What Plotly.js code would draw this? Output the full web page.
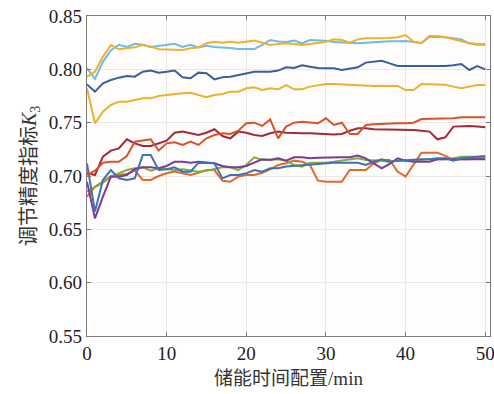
<!DOCTYPE html>
<html>
<head>
<meta charset="utf-8">
<script src="https://cdn.plot.ly/plotly-3.0.1.min.js"></script>
<style>html,body{margin:0;padding:0;background:#fff;}#chart{width:494px;height:394px;}</style>
</head>
<body>
<div id="chart"></div>
<script>
// storage time configuration (min)
const minutes = [0,1,2,3,4,5,6,7,8,9,10,11,12,13,14,15,16,17,18,19,20,21,22,23,24,25,26,27,28,29,30,31,32,33,34,35,36,37,38,39,40,41,42,43,44,45,46,47,48,49,50];

const seriesLightBlue = [0.801,0.791,0.807,0.818,0.823,0.821,0.824,0.823,0.821,0.822,0.823,0.824,0.821,0.823,0.8206,0.822,0.821,0.8206,0.820,0.819,0.819,0.819,0.823,0.8275,0.826,0.8256,0.8269,0.8244,0.8275,0.8275,0.8269,0.8256,0.825,0.8244,0.8244,0.825,0.8256,0.826,0.8263,0.8263,0.8266,0.8256,0.8244,0.8306,0.8306,0.830,0.8291,0.8281,0.8244,0.8231,0.8231];
const seriesYellowHigh = [0.7931,0.7978,0.8119,0.8228,0.8188,0.8197,0.8206,0.8228,0.8213,0.8188,0.8188,0.8181,0.8181,0.8197,0.8206,0.8244,0.8259,0.825,0.8259,0.825,0.8259,0.8269,0.825,0.8228,0.8238,0.8244,0.8238,0.8228,0.8238,0.825,0.8259,0.8281,0.8275,0.825,0.8281,0.8291,0.8291,0.8294,0.8294,0.830,0.8322,0.8259,0.825,0.8313,0.8313,0.830,0.8281,0.8269,0.8244,0.8238,0.8238];
const seriesDarkBlue = [0.7859,0.7791,0.7869,0.790,0.7922,0.7938,0.7931,0.7978,0.7988,0.7969,0.7978,0.7988,0.7925,0.7916,0.7969,0.7963,0.7906,0.7925,0.7931,0.7947,0.7956,0.7978,0.7978,0.7978,0.7988,0.8019,0.8013,0.8038,0.8025,0.8013,0.8009,0.8009,0.7994,0.8009,0.8019,0.8063,0.8075,0.8081,0.8056,0.8031,0.8031,0.8031,0.8031,0.8025,0.8025,0.8031,0.8038,0.805,0.7994,0.8031,0.800];
const seriesYellowLow = [0.7822,0.7494,0.7603,0.7666,0.7697,0.7697,0.7713,0.7728,0.7728,0.775,0.7759,0.7769,0.7775,0.7781,0.7759,0.7738,0.7759,0.7769,0.7791,0.7791,0.7822,0.7831,0.7806,0.7822,0.7813,0.7853,0.7813,0.7813,0.7838,0.7853,0.7863,0.7863,0.7859,0.7853,0.7847,0.7844,0.7844,0.7844,0.7844,0.7844,0.7806,0.7806,0.7863,0.7863,0.7863,0.7856,0.7838,0.7822,0.7838,0.7853,0.7853];
const seriesRedOrange = [0.7009,0.705,0.7125,0.7134,0.7134,0.7188,0.7322,0.7331,0.7344,0.7238,0.7306,0.7316,0.7291,0.7322,0.7291,0.7353,0.7384,0.740,0.7394,0.7425,0.7494,0.750,0.7469,0.7531,0.7353,0.7463,0.750,0.7509,0.7503,0.7494,0.7541,0.7478,0.750,0.7394,0.7394,0.7478,0.7484,0.7488,0.7494,0.7494,0.7494,0.750,0.7534,0.7534,0.7534,0.7534,0.7541,0.755,0.755,0.755,0.755];
const seriesDarkRed = [0.7025,0.7009,0.7181,0.7238,0.7259,0.7344,0.7306,0.7281,0.7281,0.7306,0.7331,0.7406,0.7416,0.740,0.7384,0.7406,0.7438,0.7375,0.7353,0.7416,0.7406,0.7384,0.7375,0.740,0.7416,0.7406,0.740,0.740,0.740,0.7394,0.7394,0.7388,0.7394,0.7425,0.7447,0.7447,0.7438,0.7438,0.7431,0.7431,0.7431,0.7431,0.7425,0.7416,0.7344,0.7363,0.7463,0.7469,0.7469,0.7463,0.7456];
const seriesBlue = [0.7119,0.6666,0.6963,0.7056,0.6978,0.6963,0.6978,0.7197,0.7197,0.7056,0.7063,0.7081,0.7041,0.7041,0.7125,0.7125,0.7119,0.6978,0.7009,0.7009,0.7025,0.7056,0.7041,0.7072,0.7072,0.7088,0.7094,0.7103,0.7109,0.7113,0.7119,0.7125,0.7125,0.7125,0.7125,0.7103,0.7134,0.7156,0.7134,0.7144,0.715,0.715,0.7156,0.7156,0.7166,0.7166,0.7144,0.7166,0.7175,0.7181,0.7188];
const seriesPurple = [0.6947,0.6603,0.6806,0.6994,0.6994,0.7009,0.7063,0.7081,0.7081,0.7072,0.7094,0.7134,0.7134,0.7125,0.7134,0.7125,0.7119,0.7094,0.7081,0.7081,0.7094,0.7125,0.7156,0.715,0.7166,0.7144,0.7175,0.7175,0.7166,0.7172,0.7175,0.7175,0.7175,0.7175,0.7191,0.7166,0.7119,0.7072,0.7113,0.7166,0.7144,0.7134,0.7134,0.7134,0.7156,0.7156,0.715,0.7156,0.7156,0.7156,0.7156];
const seriesGreen = [0.6853,0.6894,0.6938,0.6994,0.7025,0.7056,0.7072,0.7081,0.705,0.7072,0.7063,0.7056,0.7063,0.705,0.7041,0.705,0.7063,0.7081,0.7081,0.7056,0.7103,0.7175,0.715,0.715,0.7156,0.7144,0.7103,0.7088,0.7125,0.7125,0.7125,0.7134,0.7144,0.715,0.7166,0.715,0.715,0.7144,0.7134,0.7144,0.7144,0.715,0.7156,0.7156,0.7156,0.7156,0.7166,0.7181,0.7181,0.7181,0.7181];
const seriesOrange = [0.6806,0.690,0.6947,0.700,0.7009,0.7019,0.705,0.6963,0.6963,0.700,0.7025,0.7041,0.7025,0.7009,0.7031,0.7056,0.7056,0.6956,0.6947,0.6994,0.7009,0.7009,0.7031,0.7063,0.7103,0.7119,0.7144,0.7134,0.7103,0.6956,0.6947,0.6947,0.6947,0.7056,0.7056,0.7056,0.7119,0.715,0.715,0.7041,0.6994,0.7103,0.7219,0.7219,0.7219,0.7188,0.715,0.7156,0.7156,0.7166,0.7166];

const xTickVals = [0,10,20,30,40,50];
const yTickVals = [0.55,0.60,0.65,0.70,0.75,0.80,0.85];
const xTitle = '储能时间配置/min';
const yTitle = '调节精度指标<i>K</i><sub>3</sub>';

const series = [
  {y: seriesOrange, color: '#e2692c'},
  {y: seriesGreen, color: '#7fae3c'},
  {y: seriesPurple, color: '#7e3a92'},
  {y: seriesBlue, color: '#3d72b6'},
  {y: seriesDarkRed, color: '#a2283a'},
  {y: seriesRedOrange, color: '#d8532b'},
  {y: seriesYellowLow, color: '#ecb22e'},
  {y: seriesDarkBlue, color: '#3b5e9e'},
  {y: seriesLightBlue, color: '#6cbbe8'},
  {y: seriesYellowHigh, color: '#ecb22e'}
];

const traces = series.map(s => ({
  x: minutes, y: s.y, type: 'scatter', mode: 'lines',
  line: {color: s.color, width: 2}, hoverinfo: 'skip', showlegend: false
}));

const serif = 'Liberation Serif, Times New Roman, serif';
const cjk = 'Liberation Serif, Noto Sans CJK SC, serif';

const layout = {
  width: 494, height: 394,
  margin: {l: 87, r: 4, t: 16, b: 58},
  paper_bgcolor: '#ffffff',
  plot_bgcolor: '#fefdfb',
  showlegend: false,
  xaxis: {
    range: [0, 50.6], tickvals: xTickVals, ticktext: xTickVals.map(String),
    ticklabeloverflow: 'allow',
    showgrid: true, gridcolor: '#e8e8e8', gridwidth: 1,
    zeroline: false, showline: true, linecolor: '#7a7a7a', linewidth: 1.2, mirror: 'ticks',
    ticks: 'inside', ticklen: 4, tickcolor: '#7a7a7a',
    tickfont: {family: serif, size: 19, color: '#222'},
    title: {text: xTitle, font: {family: cjk, size: 19, color: '#333'}, standoff: 8}
  },
  yaxis: {
    range: [0.55, 0.85], tickvals: yTickVals, ticktext: yTickVals.map(v => v.toFixed(2)),
    ticklabeloverflow: 'allow',
    showgrid: true, gridcolor: '#e8e8e8', gridwidth: 1,
    zeroline: false, showline: true, linecolor: '#7a7a7a', linewidth: 1.2, mirror: 'ticks',
    ticks: 'inside', ticklen: 4, tickcolor: '#7a7a7a',
    tickfont: {family: serif, size: 19, color: '#222'}
  },
  annotations: [{
    text: yTitle, xref: 'paper', yref: 'paper', x: 0, y: 0.5,
    xanchor: 'center', yanchor: 'middle', xshift: -57, textangle: -90,
    showarrow: false, font: {family: cjk, size: 20, color: '#333'}
  }]
};

Plotly.newPlot('chart', traces, layout, {staticPlot: true, displayModeBar: false});
</script>
</body>
</html>
